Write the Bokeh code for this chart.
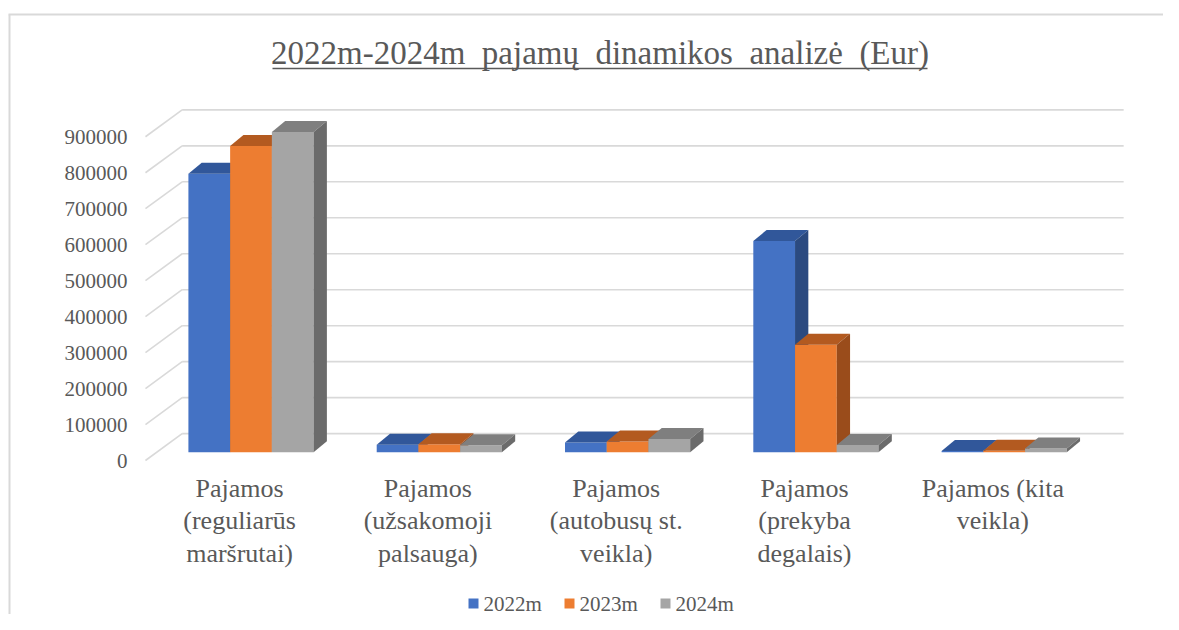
from bokeh.plotting import figure
from bokeh.models import Range1d, ColumnDataSource
from bokeh.core.properties import value
from bokeh.embed import file_html
from bokeh.resources import INLINE

# ---------------- data ----------------
categories = [
    "Pajamos\n(reguliarūs\nmaršrutai)",
    "Pajamos\n(užsakomoji\npalsauga)",
    "Pajamos\n(autobusų st.\nveikla)",
    "Pajamos\n(prekyba\ndegalais)",
    "Pajamos (kita\nveikla)",
]
series_names = ["2022m", "2023m", "2024m"]
values_2022 = [774000, 21000, 27000, 587000, 3000]
values_2023 = [851000, 22000, 30000, 299000, 4000]
values_2024 = [890000, 19000, 37000, 20000, 10000]
y_ticks = [0, 100000, 200000, 300000, 400000, 500000, 600000, 700000, 800000, 900000]
title_text = "2022m-2024m\u00a0\u00a0pajamų\u00a0\u00a0dinamikos\u00a0\u00a0analizė\u00a0\u00a0(Eur)"

series_values = [values_2022, values_2023, values_2024]
front_colors = ["#4472C4", "#ED7D31", "#A5A5A5"]
top_colors = ["#31579A", "#B35A20", "#7F7F7F"]
side_colors = ["#2B4A80", "#9A4C1B", "#6B6B6B"]

# ---------------- geometry (image pixels -> data) ----------------
W, H = 1163, 614
PAGE_X0, PAGE_Y0 = 0, 0
X0 = 250.5          # x of category 0 centre (bar plane)
SX = 188.3          # px per category
Y0 = 451.7          # y of value 0 (bar plane)
SY = 35.97 / 100000  # px per unit value


def px2x(px):
    return (px - X0) / SX


def py2y(py):
    return (Y0 - py) / SY


def dxp(px):
    return px / SX


def dyp(px):
    return px / SY


p = figure(width=W, height=H, output_backend="svg", toolbar_location=None,
           x_range=Range1d(px2x(PAGE_X0), px2x(PAGE_X0 + W)),
           y_range=Range1d(py2y(PAGE_Y0 + H), py2y(PAGE_Y0)),
           x_axis_location=None, y_axis_location=None, min_border=0)
p.outline_line_color = None
p.xgrid.visible = False
p.ygrid.visible = False
p.background_fill_color = "white"
p.border_fill_color = "white"

FONT = value("Liberation Serif")
TXT = "#595959"
GRID = "#d9d9d9"

# chart border (left and top)
p.segment(x0=[px2x(9), px2x(8)], y0=[py2y(14), py2y(14)],
          x1=[px2x(9), px2x(1200)], y1=[py2y(660), py2y(14)],
          line_color=GRID, line_width=2)

# planes
n = len(categories)
front_dx, front_dy = dxp(-11.4), dyp(-8.3)
back_dx, back_dy = dxp(25.3), dyp(18.6)
left_edge = -0.5
right_edge = n - 0.5

# wall gridlines
x0s, y0s, x1s, y1s = [], [], [], []
for v in y_ticks:
    x0s.append(left_edge + front_dx); y0s.append(v + front_dy)
    x1s.append(left_edge + back_dx); y1s.append(v + back_dy)
    x0s.append(left_edge + back_dx); y0s.append(v + back_dy)
    x1s.append(right_edge + back_dx); y1s.append(v + back_dy)
p.segment(x0=x0s, y0=y0s, x1=x1s, y1=y1s, line_color=GRID, line_width=1.6)

# y labels
p.text(x=[left_edge + front_dx - dxp(18)] * len(y_ticks),
       y=[v + front_dy for v in y_ticks],
       text=[str(v) for v in y_ticks],
       text_align="right", text_baseline="middle",
       text_font=FONT, text_font_size="21px", text_color=TXT)

# bars (3D)
bw = 0.2216
bdx, bdy = dxp(13.3), dyp(11)
for s, vals in enumerate(series_values):
    lefts = [i + (s - 1.5) * bw for i in range(n)]
    rights = [l + bw for l in lefts]
    src = ColumnDataSource(dict(left=lefts, right=rights,
                                top=vals, bottom=[0] * n))
    p.quad(left="left", right="right", top="top", bottom="bottom", source=src,
           fill_color=front_colors[s], line_color=None)
    tx = [[l, r, r + bdx, l + bdx] for l, r in zip(lefts, rights)]
    ty = [[h, h, h + bdy, h + bdy] for h in vals]
    p.patches(xs=tx, ys=ty, fill_color=top_colors[s], line_color=None)
    sx = [[r, r, r + bdx, r + bdx] for r in rights]
    sy = [[0, h, h + bdy, bdy] for h in vals]
    p.patches(xs=sx, ys=sy, fill_color=side_colors[s], line_color=None)

# category labels
p.text(x=[i + front_dx for i in range(n)], y=[py2y(473)] * n, text=categories,
       text_align="center", text_baseline="top", text_line_height=1.13,
       text_font=FONT, text_font_size="26px", text_color=TXT)

# title + underline
p.text(x=[px2x(599.5)], y=[py2y(52.5)], text=[title_text],
       text_align="center", text_baseline="middle",
       text_font=FONT, text_font_size="33px", text_color=TXT)
p.segment(x0=[px2x(272)], y0=[py2y(68)], x1=[px2x(927)], y1=[py2y(68)],
          line_color=TXT, line_width=1.5)

# legend
leg_sq_x = [473, 569, 665]
p.scatter(x=[px2x(v) for v in leg_sq_x], y=[py2y(603)] * 3, marker="square",
          size=10, fill_color=front_colors, line_color=None)
p.text(x=[px2x(v + 10) for v in leg_sq_x], y=[py2y(603)] * 3, text=series_names,
       text_align="left", text_baseline="middle",
       text_font=FONT, text_font_size="21px", text_color=TXT)

open("out.html", "w").write(file_html(p, INLINE))
